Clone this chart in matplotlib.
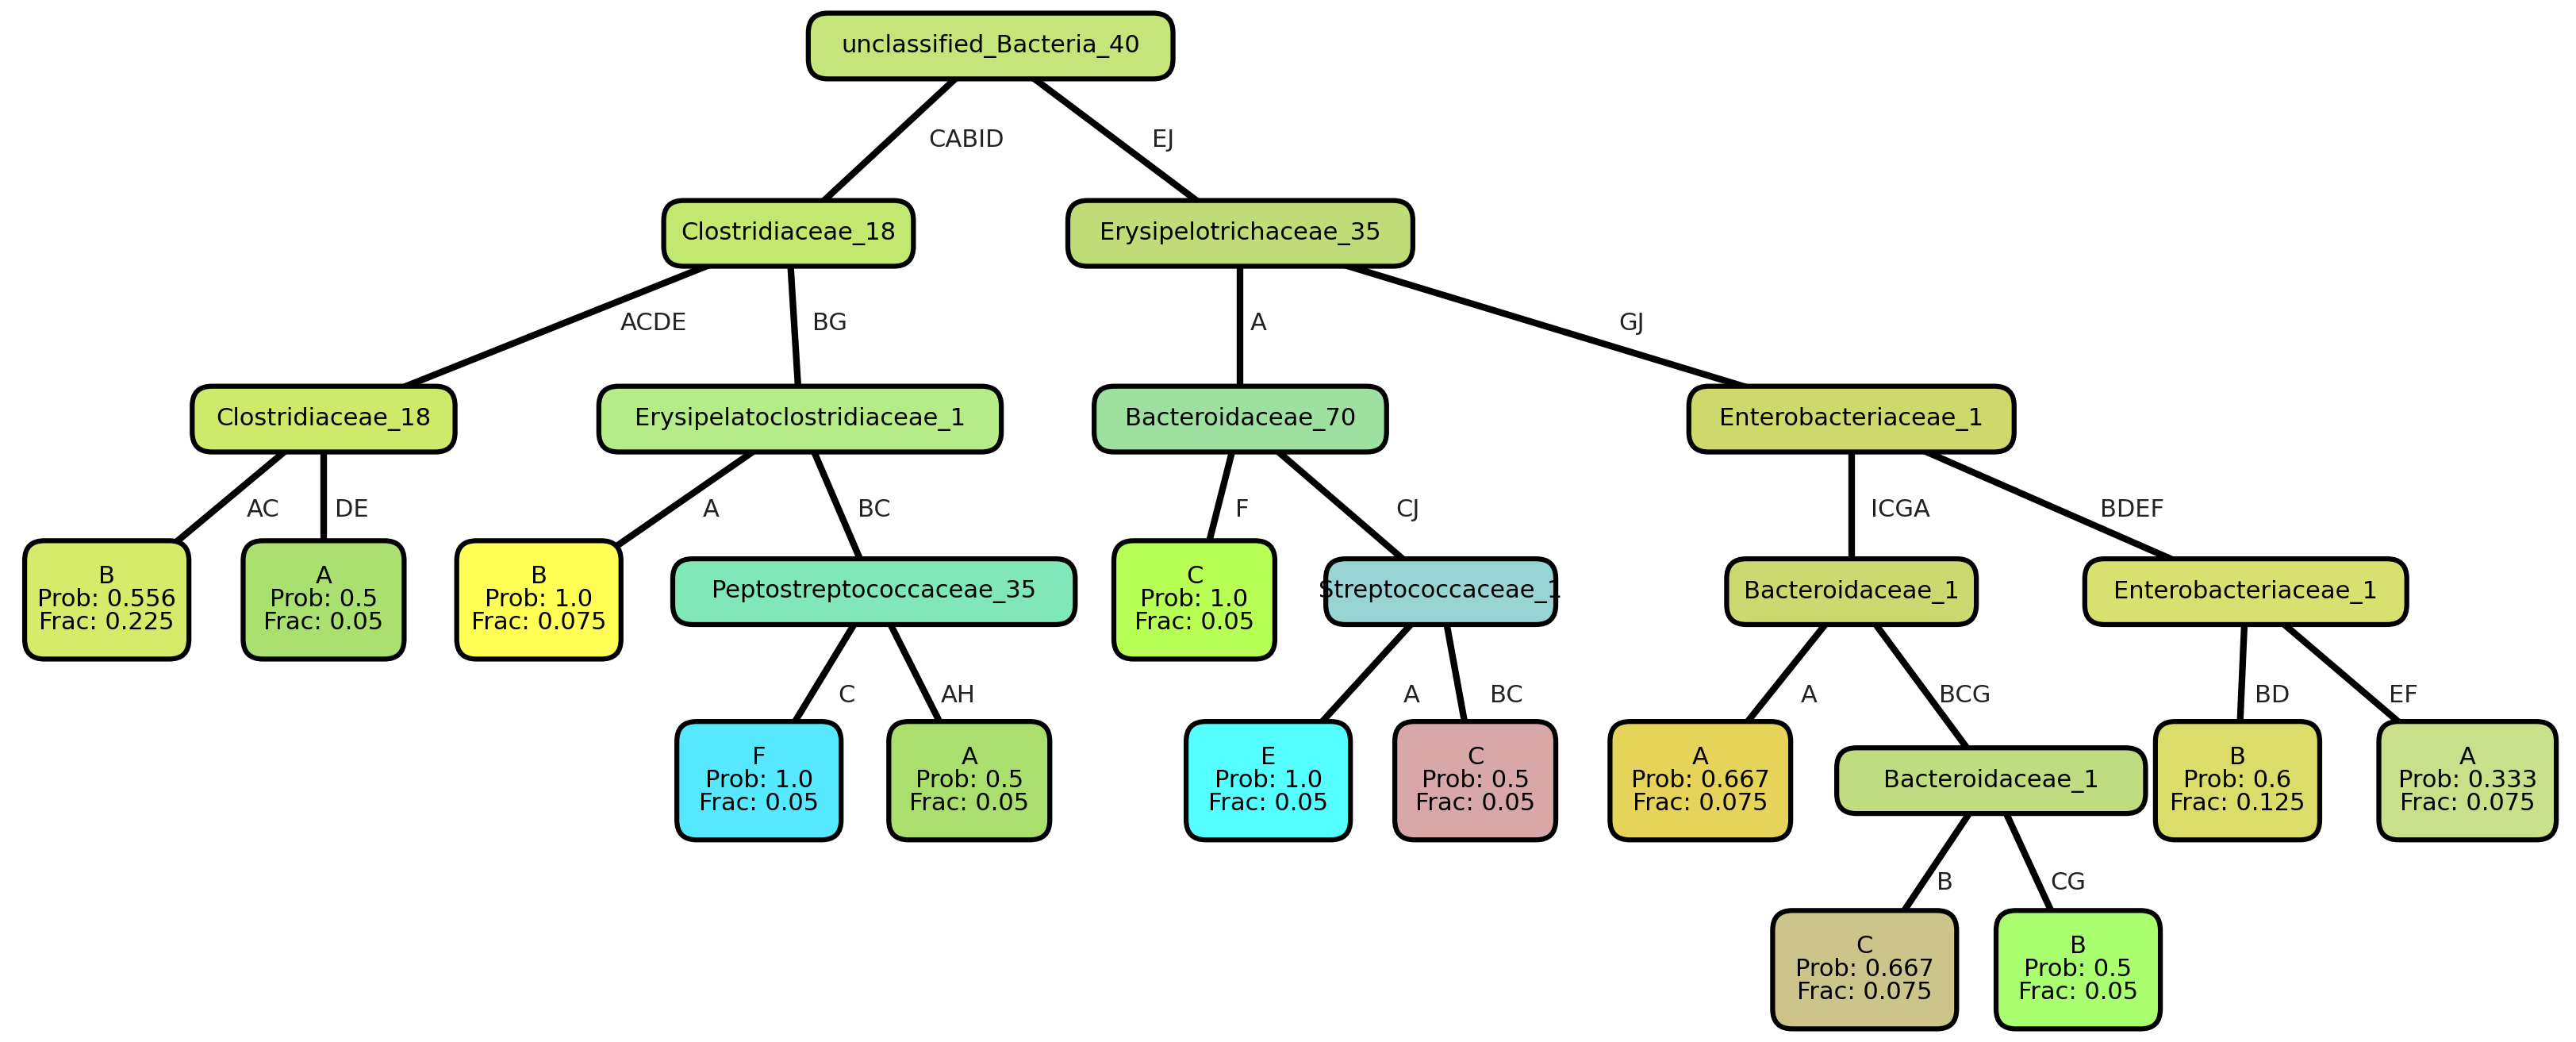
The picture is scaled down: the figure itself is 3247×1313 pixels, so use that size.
import matplotlib
matplotlib.use("Agg")
import matplotlib.pyplot as plt
from matplotlib.patches import FancyBboxPatch

# ---- data ----
node_text = [
    "unclassified_Bacteria_40", "Clostridiaceae_18", "Erysipelotrichaceae_35",
    "Clostridiaceae_18", "Erysipelatoclostridiaceae_1", "Bacteroidaceae_70", "Enterobacteriaceae_1",
    "B\nProb: 0.556\nFrac: 0.225", "A\nProb: 0.5\nFrac: 0.05", "B\nProb: 1.0\nFrac: 0.075",
    "Peptostreptococcaceae_35", "C\nProb: 1.0\nFrac: 0.05", "Streptococcaceae_1",
    "Bacteroidaceae_1", "Enterobacteriaceae_1",
    "F\nProb: 1.0\nFrac: 0.05", "A\nProb: 0.5\nFrac: 0.05", "E\nProb: 1.0\nFrac: 0.05",
    "C\nProb: 0.5\nFrac: 0.05", "A\nProb: 0.667\nFrac: 0.075", "Bacteroidaceae_1",
    "B\nProb: 0.6\nFrac: 0.125", "A\nProb: 0.333\nFrac: 0.075",
    "C\nProb: 0.667\nFrac: 0.075", "B\nProb: 0.5\nFrac: 0.05",
]
node_color = [
    "#c5e57a", "#c3e870", "#c0dc78",
    "#cfe96a", "#b5ec88", "#9de0a0", "#cdd96a",
    "#d6eb6a", "#aae070", "#ffff55", "#80e8b8", "#b8ff55", "#98d4d4",
    "#ccd870", "#d8e070",
    "#55e8ff", "#aadf6e", "#55ffff", "#d8a8a8", "#e6d45a", "#c0dc80",
    "#dcdc6a", "#c8e08a", "#ccc48a", "#aaff70",
]
parent = [None, 0, 0, 1, 1, 2, 2, 3, 3, 4, 4, 5, 5, 6, 6, 10, 10, 12, 12, 13, 13, 14, 14, 20, 20]
edge_label = [None, "CABID", "EJ", "ACDE", "BG", "A", "GJ", "AC", "DE", "A", "BC", "F", "CJ",
              "ICGA", "BDEF", "C", "AH", "A", "BC", "A", "BCG", "BD", "EF", "B", "CG"]

# ---- layout (display coordinates, reference scaled 1568x634) ----
pos = [(603, 28), (480, 142), (755, 142),
       (197, 255), (487, 255), (755, 255), (1127, 255),
       (65, 365), (197, 365), (328, 365), (532, 360), (727, 365), (877, 360),
       (1127, 360), (1367, 360),
       (462, 475), (590, 475), (772, 475), (898, 475), (1035, 475), (1212, 475),
       (1362, 475), (1502, 475), (1135, 590), (1265, 590)]
width = [222, 152, 210, 160, 245, 178, 198,
         100, 98, 100, 245, 98, 140, 152, 196,
         100, 98, 100, 98, 110, 188, 100, 108, 112, 100]
label_pos = [None, (588, 85), (708, 85), (398, 197), (505, 197), (766, 197), (993, 197),
             (160, 310), (214, 310), (433, 310), (532, 310), (756, 310), (857, 310),
             (1157, 310), (1298, 310), (515, 423), (583, 423), (859, 423), (917, 423),
             (1101, 423), (1196, 423), (1383, 423), (1463, 423), (1184, 537), (1259, 537)]

fig = plt.figure(figsize=(32.47, 13.13), dpi=100)
ax = fig.add_axes([0, 0, 1, 1])
ax.set_xlim(0, 1568)
ax.set_ylim(634, 0)
ax.axis("off")

for i, p in enumerate(parent):
    if p is None:
        continue
    (x0, y0), (x1, y1) = pos[p], pos[i]
    ax.plot([x0, x1], [y0, y1], color="black", lw=6, zorder=1, solid_capstyle="butt")
    lx, ly = label_pos[i]
    ax.text(lx, ly, edge_label[i], ha="center", va="center", fontsize=22,
            color="#222222", family="DejaVu Sans", zorder=3)

for i, t in enumerate(node_text):
    x, y = pos[i]
    leaf = "\n" in t
    h = 72 if leaf else 40
    w = width[i]
    box = FancyBboxPatch((x - w / 2, y - h / 2), w, h,
                         boxstyle="round,pad=0,rounding_size=12",
                         fc=node_color[i], ec="black", lw=4.5, zorder=2)
    ax.add_patch(box)
    ax.text(x, y, t, ha="center", va="center", fontsize=22, linespacing=1.0,
            color="black", family="DejaVu Sans", zorder=3)

fig.savefig("out.png", dpi=100)
